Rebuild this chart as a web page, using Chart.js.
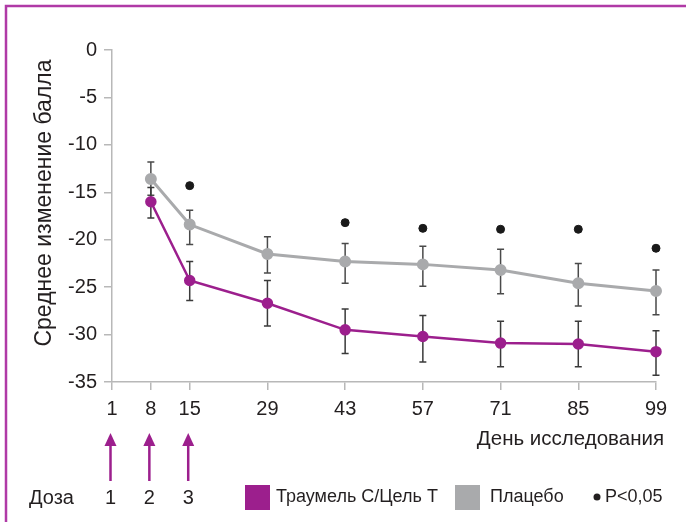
<!DOCTYPE html>
<html>
<head>
<meta charset="utf-8">
<script src="https://cdn.jsdelivr.net/npm/chart.js@4"></script>
<style>
  html, body { margin: 0; padding: 0; background: #fff; }
  canvas { display: block; }
</style>
</head>
<body>
<canvas id="chart" width="686" height="522"></canvas>
<script>
// days of observation and tick labels on the x axis
const xTicks = [1, 8, 15, 29, 43, 57, 71, 85, 99];
const days = [8, 15, 29, 43, 57, 71, 85, 99];
const doseDays = [1, 8, 15];
const doseLabels = ['1', '2', '3'];

// mean change of score
const traumel = [-16.0, -24.3, -26.7, -29.5, -30.2, -30.9, -31.0, -31.8];
const traumelLow = [-17.7, -26.4, -29.1, -32.0, -32.9, -33.4, -33.4, -34.3];
const traumelHigh = [-14.5, -22.3, -24.3, -27.3, -28.0, -28.6, -28.6, -29.6];

const placebo = [-13.6, -18.4, -21.5, -22.3, -22.6, -23.2, -24.6, -25.4];
const placeboLow = [-15.3, -20.5, -23.5, -24.6, -24.9, -25.7, -27.0, -27.9];
const placeboHigh = [-11.8, -16.9, -19.7, -20.4, -20.7, -21.0, -22.5, -23.2];

// p<0.05 markers
const sigDays = [15, 43, 57, 71, 85, 99];
const sigValues = [-14.3, -18.2, -18.8, -18.9, -18.9, -20.9];

const PURPLE = '#9c1f8d';
const GRAY = '#a9aaac';
const TEXT = '#231f20';
const AXIS = '#b8b8b8';
const FONT = "'Liberation Sans', Arial, sans-serif";

const toPoints = (xs, ys) => xs.map((x, i) => ({ x: x, y: ys[i] }));

const errorBars = {
    id: 'errorBars',
    beforeDatasetsDraw(chart) {
        const { ctx, scales: { x, y } } = chart;
        const sets = [
            [placeboLow, placeboHigh, '#4a4a4a'],
            [traumelLow, traumelHigh, '#3a3a3a']
        ];
        ctx.save();
        ctx.lineWidth = 1.5;
        sets.forEach(([low, high, color]) => {
            ctx.strokeStyle = color;
            days.forEach((d, i) => {
                const px = x.getPixelForValue(d);
                const y1 = y.getPixelForValue(low[i]);
                const y2 = y.getPixelForValue(high[i]);
                ctx.beginPath();
                ctx.moveTo(px, y1); ctx.lineTo(px, y2);
                ctx.moveTo(px - 3.5, y1); ctx.lineTo(px + 3.5, y1);
                ctx.moveTo(px - 3.5, y2); ctx.lineTo(px + 3.5, y2);
                ctx.stroke();
            });
        });
        ctx.restore();
    }
};

const extras = {
    id: 'extras',
    afterDraw(chart) {
        const { ctx, scales: { x } } = chart;
        ctx.save();

        // frame (top and left edges)
        ctx.strokeStyle = '#b03aa6';
        ctx.lineWidth = 2.5;
        ctx.beginPath();
        ctx.moveTo(686, 6); ctx.lineTo(6, 6); ctx.lineTo(6, 522);
        ctx.stroke();

        // y axis title
        ctx.fillStyle = TEXT;
        ctx.font = '23px ' + FONT;
        ctx.textAlign = 'center';
        ctx.textBaseline = 'middle';
        ctx.save();
        ctx.translate(45, 203);
        ctx.rotate(-Math.PI / 2);
        ctx.fillText('Среднее изменение балла', 0, 0);
        ctx.restore();

        // x axis title
        ctx.font = '20.5px ' + FONT;
        ctx.textAlign = 'right';
        ctx.fillText('День исследования', 664, 439);

        // dose arrows
        ctx.font = '20px ' + FONT;
        ctx.textAlign = 'center';
        doseDays.forEach((d, i) => {
            const px = x.getPixelForValue(d) - 1.5;
            ctx.strokeStyle = PURPLE;
            ctx.fillStyle = PURPLE;
            ctx.lineWidth = 2.5;
            ctx.beginPath();
            ctx.moveTo(px, 481); ctx.lineTo(px, 442);
            ctx.stroke();
            ctx.beginPath();
            ctx.moveTo(px, 433); ctx.lineTo(px - 6, 446); ctx.lineTo(px + 6, 446);
            ctx.closePath();
            ctx.fill();
            ctx.fillStyle = TEXT;
            ctx.fillText(doseLabels[i], px, 498);
        });
        ctx.textAlign = 'left';
        ctx.fillText('Доза', 29, 498);

        // legend
        ctx.font = '18px ' + FONT;
        ctx.fillStyle = PURPLE;
        ctx.fillRect(245, 485, 25, 25);
        ctx.fillStyle = TEXT;
        ctx.fillText('Траумель С/Цель Т', 276, 497);
        ctx.fillStyle = GRAY;
        ctx.fillRect(455, 485, 25, 25);
        ctx.fillStyle = TEXT;
        ctx.fillText('Плацебо', 490, 497);
        ctx.beginPath();
        ctx.arc(597, 497, 3.5, 0, Math.PI * 2);
        ctx.fill();
        ctx.fillText('P<0,05', 605, 497);

        ctx.restore();
    }
};

new Chart(document.getElementById('chart'), {
    type: 'line',
    data: {
        datasets: [
            {
                label: 'Плацебо',
                data: toPoints(days, placebo),
                borderColor: GRAY,
                backgroundColor: GRAY,
                borderWidth: 3,
                pointRadius: 4.5,
                tension: 0,
                clip: false
            },
            {
                label: 'Траумель С/Цель Т',
                data: toPoints(days, traumel),
                borderColor: PURPLE,
                backgroundColor: PURPLE,
                borderWidth: 2.5,
                pointRadius: 4.5,
                tension: 0,
                clip: false
            },
            {
                label: 'P<0,05',
                data: toPoints(sigDays, sigValues),
                showLine: false,
                borderColor: '#1a1a1a',
                backgroundColor: '#1a1a1a',
                pointRadius: 4,
                clip: false
            }
        ]
    },
    options: {
        responsive: false,
        animation: false,
        layout: { padding: { top: 50, right: 30, left: 0, bottom: 0 } },
        plugins: {
            legend: { display: false },
            tooltip: { enabled: false }
        },
        scales: {
            x: {
                type: 'linear',
                min: 1,
                max: 99,
                afterBuildTicks: s => { s.ticks = xTicks.map(v => ({ value: v })); },
                afterFit: s => { s.height = 140; },
                grid: { drawOnChartArea: false, tickLength: 8, color: AXIS, lineWidth: 1.5 },
                border: { color: AXIS, width: 1.5 },
                ticks: {
                    autoSkip: false,
                    maxRotation: 0,
                    padding: 7,
                    color: TEXT,
                    font: { family: FONT, size: 20 }
                }
            },
            y: {
                min: -35,
                max: 0,
                afterFit: s => { s.width = 112; },
                grid: { drawOnChartArea: false, tickLength: 8, color: AXIS, lineWidth: 1.5 },
                border: { color: AXIS, width: 1.5 },
                ticks: {
                    stepSize: 5,
                    padding: 7,
                    color: TEXT,
                    font: { family: FONT, size: 20 }
                }
            }
        }
    },
    plugins: [errorBars, extras]
});
</script>
</body>
</html>
